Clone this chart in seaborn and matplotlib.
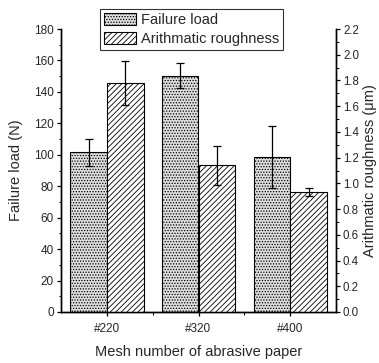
import matplotlib
matplotlib.use("Agg")
import matplotlib.pyplot as plt
import seaborn as sns
import pandas as pd
import numpy as np
from matplotlib.patches import Patch
from matplotlib.ticker import MultipleLocator

categories = ["#220", "#320", "#400"]
failure_load = [101.5, 150.3, 98.8]
failure_err = [8.6, 8.0, 19.7]
roughness = [1.78, 1.14, 0.935]
roughness_err = [0.17, 0.15, 0.03]
series = ["Failure load", "Arithmatic roughness"]

sns.set_theme(style="ticks")
plt.rcParams["font.family"] = ["Liberation Sans", "DejaVu Sans"]
plt.rcParams["hatch.linewidth"] = 0.6

fig = plt.figure(figsize=(3.79, 3.63), dpi=100)
ax = fig.add_axes([61/379, 1-312/363, 275/379, 283/363])
ax2 = ax.twinx()

df_fail = pd.DataFrame({"mesh": categories, "value": failure_load, "series": series[0]})
df_rough = pd.DataFrame({"mesh": categories, "value": roughness, "series": series[1]})

pal = {series[0]: "#dedede", series[1]: "white"}
sns.barplot(data=df_fail, x="mesh", y="value", hue="series", hue_order=series,
            order=categories, ax=ax, errorbar=None, width=0.8, dodge=True,
            palette=pal, edgecolor="black", linewidth=0.8, legend=False)
sns.barplot(data=df_rough, x="mesh", y="value", hue="series", hue_order=series,
            order=categories, ax=ax2, errorbar=None, width=0.8, dodge=True,
            palette=pal, edgecolor="black", linewidth=0.8, legend=False)

def real_bars(a):
    return [p for p in a.patches if p.get_height() > 0 and p.get_width() > 0]

fb = sorted(real_bars(ax), key=lambda p: p.get_x())
rb = sorted(real_bars(ax2), key=lambda p: p.get_x())
for p in fb:
    p.set_hatch("......")
for p in rb:
    p.set_hatch("//////")

ax.errorbar([p.get_x() + p.get_width()/2 for p in fb], failure_load, yerr=failure_err,
            fmt="none", ecolor="black", elinewidth=0.9, capsize=3, capthick=0.9, zorder=5)
ax2.errorbar([p.get_x() + p.get_width()/2 for p in rb], roughness, yerr=roughness_err,
             fmt="none", ecolor="black", elinewidth=0.9, capsize=3, capthick=0.9, zorder=5)

ax.set_xlim(-0.5, 2.5)
ax.set_ylim(0, 180)
ax2.set_ylim(0, 2.2)
ax.yaxis.set_major_locator(MultipleLocator(20))
ax.yaxis.set_minor_locator(MultipleLocator(10))
ax2.yaxis.set_major_locator(MultipleLocator(0.2))
ax2.yaxis.set_minor_locator(MultipleLocator(0.1))
ax2.yaxis.set_major_formatter(matplotlib.ticker.FormatStrFormatter("%.1f"))
ax.xaxis.set_minor_locator(matplotlib.ticker.FixedLocator([0.5, 1.5]))

for a in (ax, ax2):
    a.spines["top"].set_visible(False)
    for s in a.spines.values():
        s.set_linewidth(1.0)
        s.set_color("black")
    a.tick_params(which="major", length=3, width=0.9, color="black", labelsize=8.5, pad=2, direction="out")
    a.tick_params(which="minor", length=1.8, width=0.7, color="black", direction="out")
ax2.tick_params(which="major", labelsize=8.3)
ax.tick_params(axis="x", pad=5)
ax.spines["right"].set_visible(True)
ax2.spines["left"].set_visible(True)

ax.set_xlabel("Mesh number of abrasive paper", fontsize=10.5, labelpad=7)
ax.set_ylabel("Failure load (N)", fontsize=10.5, labelpad=8)
ax2.set_ylabel("Arithmatic roughness (μm)", fontsize=10.5, labelpad=3)

handles = [Patch(facecolor="#dedede", edgecolor="black", hatch="......", linewidth=0.8),
           Patch(facecolor="white", edgecolor="black", hatch="//////", linewidth=0.8)]
leg = fig.legend(handles, series, loc="upper left", bbox_to_anchor=(100/379, 1-9/363),
                 fontsize=10.5, frameon=True, fancybox=False, edgecolor="black",
                 borderpad=0.3, handlelength=2.2, handleheight=0.9, labelspacing=0.3,
                 handletextpad=0.3, borderaxespad=0)
leg.get_frame().set_linewidth(0.8)

fig.savefig("out.png", dpi=100)
